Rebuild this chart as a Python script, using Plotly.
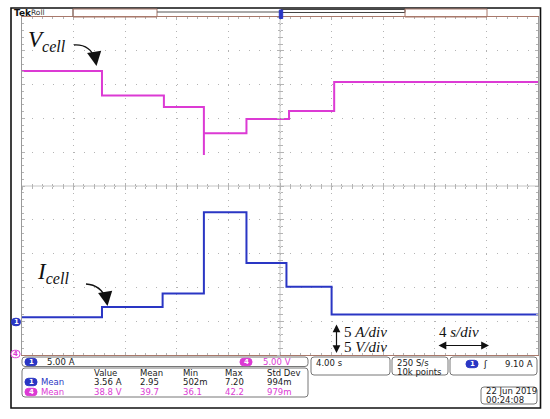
import plotly.graph_objects as go

# ---------------- data ----------------
time_v = [0, 6.2, 11.0, 14.1, 14.1, 17.4, 20.7, 24.2, 40]          # s
vcell = [42.0, 38.4, 36.7, 29.6, 32.8, 34.9, 36.1, 40.4, 40.4]      # V
time_i = [0, 6.2, 10.9, 14.1, 17.4, 20.5, 24.0, 40]                 # s
icell = [0.6, 2.1, 4.1, 16.1, 8.6, 5.1, 1.0, 1.0]                   # A

ch1_scale = "5.00 A"
ch4_scale = "5.00 V"
timebase = "4.00 s"
sample_info = ["250 S/s", "10k points"]
trigger_level = "9.10 A"
date_info = ["22 Jun 2019", "00:24:08"]
meas_cols = ["Value", "Mean", "Min", "Max", "Std Dev"]
meas_ch1 = ["3.56 A", "2.95", "502m", "7.20", "994m"]
meas_ch4 = ["38.8 V", "39.7", "36.1", "42.2", "979m"]

# ---------------- geometry helpers ----------------
W, H = 550, 419
PL, PR, PT, PB = 22, 538, 17, 355


def X(px):
    return (px - PL) / (PR - PL)


def Y(py):
    return (PB - py) / (PB - PT)


MAG = "#dc3ad4"
BLU = "#2a36c4"
GRID = "#b4b4b4"
BROWN = "#a8786a"
FONT = "DejaVu Sans"
SERIF = "Liberation Serif"
TXT = "#1a1a1a"

fig = go.Figure()

fig.add_trace(go.Scatter(x=time_v, y=vcell, mode="lines", line=dict(color=MAG, width=2, shape="hv"),
                         yaxis="y2", hoverinfo="skip", showlegend=False))
fig.add_trace(go.Scatter(x=time_i, y=icell, mode="lines", line=dict(color=BLU, width=2, shape="hv"),
                         yaxis="y", hoverinfo="skip", showlegend=False))
# invisible anchors for the centre-cross tick axes
for xa, ya in [("x2", "y"), ("x3", "y"), ("x", "y3"), ("x", "y4")]:
    fig.add_trace(go.Scatter(x=[20], y=[20], xaxis=xa, yaxis=ya, mode="markers",
                             marker=dict(opacity=0), hoverinfo="skip", showlegend=False))

common_x = dict(range=[0, 40], showticklabels=False, zeroline=False, fixedrange=True)
common_y = dict(range=[-5, 45], showticklabels=False, zeroline=False, fixedrange=True)

fig.update_layout(
    width=W, height=H,
    margin=dict(l=PL, r=W - PR, t=PT, b=H - PB),
    paper_bgcolor="white", plot_bgcolor="white",
    xaxis=dict(**common_x, dtick=4, showgrid=True, gridcolor=GRID, gridwidth=1,
               griddash="1px,5.76px", showline=True, linecolor=BROWN, linewidth=1,
               mirror="ticks", ticks="inside", ticklen=3, tickcolor=GRID,
               minor=dict(dtick=0.8, ticks="inside", ticklen=2, tickcolor=GRID, showgrid=False)),
    yaxis=dict(**common_y, dtick=5, showgrid=True, gridcolor=GRID, gridwidth=1,
               griddash="1px,9.32px", showline=True, linecolor="#9a9a9a", linewidth=1,
               mirror="ticks", ticks="inside", ticklen=3, tickcolor=GRID,
               minor=dict(dtick=1, ticks="inside", ticklen=2, tickcolor=GRID, showgrid=False)),
    yaxis2=dict(range=[0, 50], overlaying="y", visible=False, fixedrange=True),
    xaxis2=dict(**common_x, overlaying="x", anchor="free", position=0.5, showgrid=False,
                dtick=4, ticks="outside", ticklen=3, tickcolor=GRID,
                minor=dict(dtick=0.8, ticks="outside", ticklen=2, tickcolor=GRID)),
    xaxis3=dict(**common_x, overlaying="x", anchor="free", position=0.5, showgrid=False,
                dtick=4, ticks="inside", ticklen=3, tickcolor=GRID,
                minor=dict(dtick=0.8, ticks="inside", ticklen=2, tickcolor=GRID)),
    yaxis3=dict(**common_y, overlaying="y", anchor="free", position=0.5, showgrid=False,
                dtick=5, ticks="outside", ticklen=3, tickcolor=GRID,
                minor=dict(dtick=1, ticks="outside", ticklen=2, tickcolor=GRID)),
    yaxis4=dict(**common_y, overlaying="y", anchor="free", position=0.5, showgrid=False,
                dtick=5, ticks="inside", ticklen=3, tickcolor=GRID,
                minor=dict(dtick=1, ticks="inside", ticklen=2, tickcolor=GRID)),
)

shapes = []
# centre cross
shapes.append(dict(type="line", xref="paper", yref="paper", x0=0.5, x1=0.5, y0=0, y1=1,
                   line=dict(color="#c4c4c4", width=1), layer="below"))
shapes.append(dict(type="line", xref="paper", yref="paper", x0=0, x1=1, y0=0.5, y1=0.5,
                   line=dict(color="#c4c4c4", width=1), layer="below"))
# outer frame
shapes.append(dict(type="rect", xref="paper", yref="paper", x0=X(11), x1=X(540.5), y0=Y(408), y1=Y(8),
                   line=dict(color="#111", width=1.6)))
# top bar
shapes.append(dict(type="line", xref="paper", yref="paper", x0=X(73), x1=X(73), y0=Y(17), y1=Y(8),
                   line=dict(color="#555", width=1)))
shapes.append(dict(type="rect", xref="paper", yref="paper", x0=X(73), x1=X(157), y0=Y(17), y1=Y(9),
                   line=dict(color=BROWN, width=1)))
shapes.append(dict(type="line", xref="paper", yref="paper", x0=X(157), x1=X(281), y0=Y(12), y1=Y(12),
                   line=dict(color="#555", width=1)))
shapes.append(dict(type="rect", xref="paper", yref="paper", x0=X(281), x1=X(405), y0=Y(12.5), y1=Y(9.5),
                   line=dict(color="#444", width=1)))
shapes.append(dict(type="rect", xref="paper", yref="paper", x0=X(405), x1=X(487), y0=Y(17), y1=Y(9),
                   line=dict(color=BROWN, width=1)))
# trigger-position marker
shapes.append(dict(type="rect", xref="paper", yref="paper", x0=X(279.3), x1=X(282.7), y0=Y(18.5), y1=Y(10),
                   line=dict(color=BLU, width=1), fillcolor=BLU))


def rrect(x0, y0, x1, y1, r=3):
    rx, ry = r / (PR - PL), r / (PB - PT)
    a, b, c, d = X(x0), X(x1), Y(y0), Y(y1)   # c: top, d: bottom (paper)
    return (f"M {a+rx},{c} L {b-rx},{c} Q {b},{c} {b},{c-ry} L {b},{d+ry} Q {b},{d} {b-rx},{d} "
            f"L {a+rx},{d} Q {a},{d} {a},{d+ry} L {a},{c-ry} Q {a},{c} {a+rx},{c} Z")


for (bx0, by0, bx1, by1) in [(22, 357, 308, 366.5), (22, 368, 308, 397), (311, 357, 390, 375),
                             (392, 357, 448, 375), (450, 357, 537, 375), (481, 387, 537, 404)]:
    shapes.append(dict(type="path", xref="paper", yref="paper", path=rrect(bx0, by0, bx1, by1),
                       line=dict(color="#777", width=1)))

# channel pills (rounded) drawn as shapes
PILLS = [(31, 362, BLU, BLU), (246, 362, MAG, MAG), (31, 382, BLU, BLU), (31, 392, MAG, MAG),
         (472, 364, BLU, BLU), (16, 322, BLU, BLU), (15.5, 354, "white", MAG)]
for (cx, cy, fill, edge) in PILLS:
    w = 12 if cx > 20 else 9
    shapes.append(dict(type="path", xref="paper", yref="paper",
                       path=rrect(cx - w / 2, cy - 3.7, cx + w / 2, cy + 3.7, r=3.5),
                       fillcolor=fill, line=dict(color=edge, width=1)))

# curved arrows
for (sx, sy, cx, cy, ex, ey) in [(74, 45, 90, 44, 95, 59), (86, 284, 101, 285, 106, 299)]:
    shapes.append(dict(type="path", xref="paper", yref="paper",
                       path=f"M {X(sx)},{Y(sy)} Q {X(cx)},{Y(cy)} {X(ex)},{Y(ey)}",
                       line=dict(color="#111", width=1.3)))

fig.update_layout(shapes=shapes)

ann = []


def txt(x, y, s, size=8.5, color=TXT, family=FONT, xanchor="left", **kw):
    ann.append(dict(x=X(x), y=Y(y), xref="paper", yref="paper", text=s, showarrow=False,
                    xanchor=xanchor, yanchor="middle", font=dict(family=family, size=size, color=color), **kw))


# top bar label
txt(12, 12.5, "<b>Tek</b>", size=9, color="#111")
txt(29, 12, "Roll", size=7.5, color="#333")

# pill labels
for (cx, cy, fill, edge), lab in zip(PILLS, ["1", "4", "1", "4", "1", "1", "4"]):
    txt(cx, cy + 0.3, "<b>" + lab + "</b>", size=7, color=("white" if fill != "white" else MAG),
        xanchor="center")

# channel scales
txt(45, 362, ch1_scale)
txt(261, 362, ch4_scale, color=MAG)

# measurement table
col_x = [92, 138, 181, 223, 265]
for cx, h in zip(col_x, meas_cols):
    txt(cx, 373, h)
txt(39, 382, "Mean", color=BLU)
txt(39, 392, "Mean", color=MAG)
for cx, v in zip(col_x, meas_ch1):
    txt(cx, 382, v)
for cx, v in zip(col_x, meas_ch4):
    txt(cx, 392, v, color=MAG)

# timebase / sample / trigger / date
txt(314, 363, timebase)
txt(395, 363, sample_info[0])
txt(395, 372, sample_info[1])
txt(485, 364, "ʃ", size=9, color="#111", xanchor="center")
txt(535, 364, trigger_level, xanchor="right")
txt(484, 391, date_info[0])
txt(484, 400, date_info[1])

# trace labels
txt(26, 41, "<i>V</i><sub><i>cell</i></sub>", size=23, color="#111", family=SERIF)
txt(35, 273, "<i>I</i><sub><i>cell</i></sub>", size=23, color="#111", family=SERIF)
txt(342, 331.5, "5 <i>A/div</i>", size=15, color="#111", family=SERIF)
txt(342, 346.5, "5 <i>V/div</i>", size=15, color="#111", family=SERIF)
txt(437, 332, "4 <i>s/div</i>", size=15, color="#111", family=SERIF)

# arrow heads for curved arrows
for (tx, ty, ax, ay) in [(96.5, 66, -1.5, -9), (107.5, 306, -1.5, -9)]:
    ann.append(dict(x=X(tx), y=Y(ty), xref="paper", yref="paper", text="", showarrow=True,
                    ax=ax, ay=ay, arrowhead=2, arrowsize=2.2, arrowwidth=1.3, arrowcolor="#111"))
# scale arrows
ann.append(dict(x=X(336.5), y=Y(353), xref="paper", yref="paper", text="", showarrow=True,
                ax=0, ay=-30, arrowhead=2, arrowsize=1.3, arrowwidth=1.2, arrowside="end+start",
                arrowcolor="#111"))
ann.append(dict(x=X(489), y=Y(345.5), xref="paper", yref="paper", text="", showarrow=True,
                ax=-52, ay=0, arrowhead=2, arrowsize=1.3, arrowwidth=1.2, arrowside="end+start",
                arrowcolor="#111"))

fig.update_layout(annotations=ann)

fig.write_html("out.html", config={"displayModeBar": False},
               post_script="document.body.style.margin='0';document.body.style.padding='0';")
